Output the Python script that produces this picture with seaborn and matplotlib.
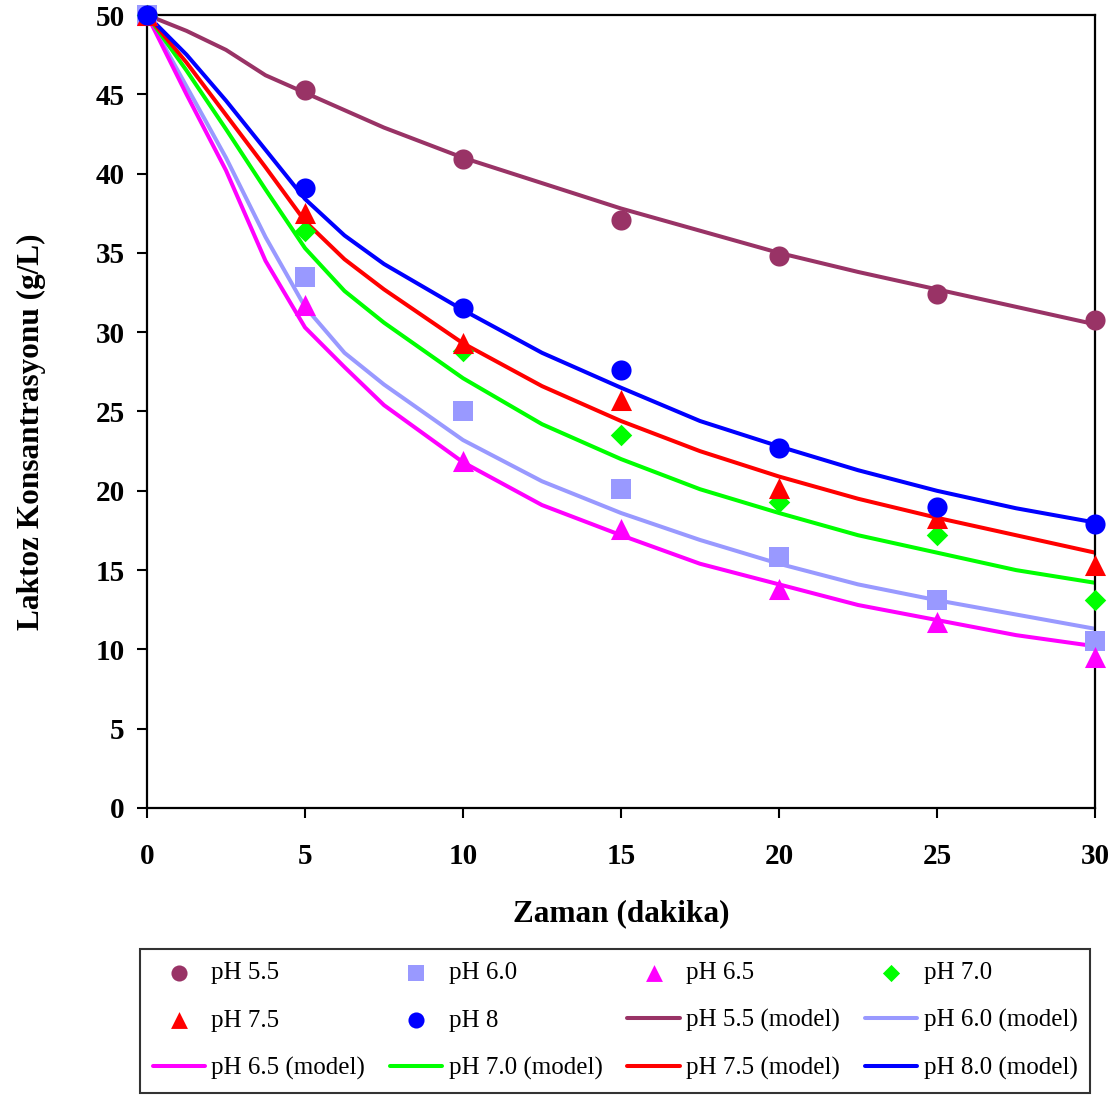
import matplotlib
matplotlib.use("Agg")
import matplotlib.pyplot as plt
import seaborn as sns
import numpy as np
import pandas as pd

# ---- data ----
t_obs = [0, 5, 10, 15, 20, 25, 30]
obs_55 = [50, 45.3, 40.9, 37.1, 34.8, 32.4, 30.8]
obs_60 = [50, 33.5, 25.0, 20.1, 15.8, 13.1, 10.5]
obs_65 = [50, 31.7, 21.9, 17.6, 13.8, 11.7, 9.5]
obs_70 = [50, 36.4, 28.8, 23.5, 19.3, 17.2, 13.1]
obs_75 = [50, 37.5, 29.3, 25.7, 20.2, 18.3, 15.3]
obs_80 = [50, 39.1, 31.5, 27.6, 22.7, 19.0, 17.9]

t_mod = [0, 1.25, 2.5, 3.75, 5, 6.25, 7.5, 10, 12.5, 15, 17.5, 20, 22.5, 25, 27.5, 30]
mod_55 = [50, 49.0, 47.8, 46.2, 45.1, 44.0, 42.9, 41.0, 39.4, 37.8, 36.4, 35.0, 33.8, 32.7, 31.6, 30.5]
mod_60 = [50, 45.5, 41.0, 36.0, 31.6, 28.7, 26.7, 23.2, 20.6, 18.6, 16.9, 15.4, 14.1, 13.1, 12.2, 11.3]
mod_65 = [50, 45.0, 40.2, 34.5, 30.3, 27.8, 25.4, 21.8, 19.1, 17.2, 15.4, 14.1, 12.8, 11.85, 10.9, 10.2]
mod_70 = [50, 46.5, 42.8, 39.0, 35.3, 32.6, 30.6, 27.1, 24.2, 22.0, 20.1, 18.6, 17.2, 16.1, 15.0, 14.2]
mod_75 = [50, 47.0, 43.7, 40.4, 37.0, 34.6, 32.7, 29.3, 26.6, 24.4, 22.5, 20.9, 19.5, 18.3, 17.2, 16.1]
mod_80 = [50, 47.5, 44.6, 41.5, 38.4, 36.1, 34.3, 31.4, 28.7, 26.5, 24.4, 22.8, 21.3, 20.0, 18.9, 18.0]

obs_labels = ["pH 5.5", "pH 6.0", "pH 6.5", "pH 7.0", "pH 7.5", "pH 8"]
mod_labels = ["pH 5.5 (model)", "pH 6.0 (model)", "pH 6.5 (model)",
              "pH 7.0 (model)", "pH 7.5 (model)", "pH 8.0 (model)"]
colors = ["#993366", "#9999FF", "#FF00FF", "#00FF00", "#FF0000", "#0000FF"]
markers = ["o", "s", "^", "D", "^", "o"]
msizes = [210, 200, 230, 120, 230, 210]

xticks = [0, 5, 10, 15, 20, 25, 30]
yticks = [0, 5, 10, 15, 20, 25, 30, 35, 40, 45, 50]

sns.set_theme(style="white")
plt.rcParams["font.family"] = ["Liberation Serif", "DejaVu Serif"]
plt.rcParams["text.color"] = "black"
plt.rcParams["axes.labelcolor"] = "black"
plt.rcParams["xtick.color"] = "black"
plt.rcParams["ytick.color"] = "black"

fig = plt.figure(figsize=(11.17, 10.95), dpi=100)
ax = fig.add_axes([147/1117, 1-808/1095, 948/1117, 793/1095])

obs_all = [obs_55, obs_60, obs_65, obs_70, obs_75, obs_80]
mod_all = [mod_55, mod_60, mod_65, mod_70, mod_75, mod_80]

for vals, c, lab in zip(mod_all, colors, mod_labels):
    sns.lineplot(x=t_mod, y=vals, color=c, lw=2.9, ax=ax, label=lab, zorder=2)

for vals, c, m, s, lab in zip(obs_all, colors, markers, msizes, obs_labels):
    sns.scatterplot(x=t_obs, y=vals, color=c, marker=m, s=s, linewidth=0,
                    ax=ax, label=lab, zorder=3)

for coll in ax.collections:
    coll.set_clip_on(False)

ax.set_xlim(0, 30)
ax.set_ylim(0, 50)
ax.set_xticks(xticks)
ax.set_yticks(yticks)
for sp in ax.spines.values():
    sp.set_visible(True)
    sp.set_color("black")
    sp.set_linewidth(1.6)
ax.tick_params(axis="both", direction="out", length=7, width=1.5, colors="black",
               labelsize=21, bottom=True, left=True)
ax.tick_params(axis="x", pad=18)
ax.tick_params(axis="y", pad=9)
for lbl in ax.get_xticklabels() + ax.get_yticklabels():
    lbl.set_fontweight("bold")

ax.set_xlabel("Zaman (dakika)", fontsize=22.5, fontweight="bold", color="black")
ax.set_ylabel("Laktoz Konsantrasyonu (g/L)", fontsize=22.5, fontweight="bold", color="black")
ax.xaxis.set_label_coords(0.5, (808-899)/793)
ax.yaxis.set_label_coords((46-147)/948, 0.475)

handles, labels = ax.get_legend_handles_labels()
if ax.get_legend():
    ax.get_legend().remove()
hmap = dict(zip(labels, handles))
row_order = obs_labels + mod_labels  # row-major order of 12 entries, 4 columns
ncol = 4
nrow = 3
col_major = []
for c in range(ncol):
    for r in range(nrow):
        col_major.append(row_order[r*ncol + c])
leg = fig.legend([hmap[l] for l in col_major], col_major, ncol=ncol,
                 loc="lower left",
                 bbox_to_anchor=(140/1117, 1-1093/1095, (1090-140)/1117, (1093-950)/1095),
                 mode="expand", fontsize=18, frameon=True, fancybox=False,
                 handlelength=2.1, handletextpad=0.25, borderpad=0.5,
                 labelspacing=1.0, markerscale=0.8, borderaxespad=0)
leg.get_frame().set_edgecolor("black")
leg.get_frame().set_linewidth(1.5)
for txt in leg.get_texts():
    txt.set_color("black")

fig.savefig("out.png", dpi=100)
